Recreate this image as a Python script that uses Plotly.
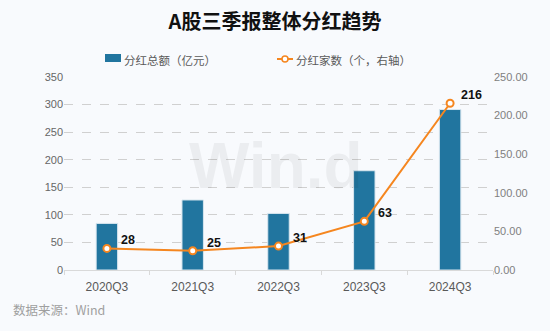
import plotly.graph_objects as go

categories = ["2020Q3", "2021Q3", "2022Q3", "2023Q3", "2024Q3"]
dividend_amount = [84.5, 127, 102.6, 180, 291]
dividend_companies = [28, 25, 31, 63, 216]
series_names = ["分红总额（亿元）", "分红家数（个，右轴）"]

FONT = "Noto Sans CJK SC, Arial, sans-serif"
BLUE = "#21759f"
ORANGE = "#f5861f"
BG = "#f8fafd"

L, R, T, B = 64, 57, 77, 61
PW, PH = 550 - L - R, 331 - T - B


def px_x(x):
    return (x - L) / PW


def px_y(y):
    return (331 - B - y) / PH


fig = go.Figure()
fig.add_trace(go.Bar(
    x=categories, y=dividend_amount, name=series_names[0],
    marker=dict(color=BLUE, line=dict(color="#d8e6ef", width=1)),
    width=0.25, yaxis="y", showlegend=False,
))
fig.add_trace(go.Scatter(
    x=categories, y=dividend_companies, name=series_names[1],
    mode="lines+markers",
    line=dict(color=ORANGE, width=2),
    marker=dict(symbol="circle", size=7, color="white", line=dict(color=ORANGE, width=2)),
    yaxis="y2", showlegend=False,
))

annotations = [
    dict(text="<b>Win.d</b>", x=px_x(276), y=px_y(166), xref="paper", yref="paper", showarrow=False,
         font=dict(family="Arial, sans-serif", size=64, color="rgba(0,0,0,0.05)")),
    dict(text="数据来源：Wind", x=px_x(11), y=px_y(309), xref="paper", yref="paper", showarrow=False,
         xanchor="left", yanchor="middle", font=dict(family=FONT, size=12.5, color="#9f9f9f")),
    dict(text=series_names[0], x=px_x(122), y=px_y(60), xref="paper", yref="paper", showarrow=False,
         xanchor="left", yanchor="middle", font=dict(family=FONT, size=11.5, color="#595959")),
    dict(text=series_names[1], x=px_x(294), y=px_y(60), xref="paper", yref="paper", showarrow=False,
         xanchor="left", yanchor="middle", font=dict(family=FONT, size=11.5, color="#595959")),
]
for c, v in zip(categories, dividend_companies):
    annotations.append(dict(
        text=f"<b>{v}</b>", x=c, y=v, xref="x", yref="y2", showarrow=False,
        xshift=21, yshift=8, font=dict(family="Arial, sans-serif", size=12.5, color="#111111")))

shapes = [
    dict(type="rect", xref="paper", yref="paper", x0=px_x(105), x1=px_x(121), y0=px_y(54), y1=px_y(62),
         fillcolor=BLUE, line=dict(width=0)),
    dict(type="line", xref="paper", yref="paper", x0=px_x(277), x1=px_x(293), y0=px_y(59), y1=px_y(59),
         line=dict(color=ORANGE, width=2)),
    dict(type="circle", xref="paper", yref="paper", x0=px_x(282), x1=px_x(288), y0=px_y(56), y1=px_y(62),
         fillcolor="white", line=dict(color=ORANGE, width=1.5)),
]

fig.update_layout(
    width=550, height=331,
    paper_bgcolor=BG, plot_bgcolor=BG,
    margin=dict(l=L, r=R, t=T, b=B),
    font=dict(family=FONT, color="#595959", size=11),
    title=dict(text="<b>A股三季报整体分红趋势</b>", x=0.5, xanchor="center", y=1 - 22 / 331, yanchor="middle",
               font=dict(family=FONT, size=20, color="#111111")),
    showlegend=False,
    xaxis=dict(showgrid=False, showline=True, linecolor="#d9d9d9", linewidth=1,
               ticks="outside", tickcolor="#d9d9d9", ticklen=4, tickson="boundaries",
               ticklabelstandoff=6,
               tickfont=dict(family="Arial, sans-serif", size=12, color="#595959")),
    yaxis=dict(range=[0, 350], dtick=50, showgrid=True, gridcolor="#d0d0d0", griddash="dash",
               zeroline=False, showline=False,
               tickfont=dict(family="Arial, sans-serif", size=11, color="#666666")),
    yaxis2=dict(range=[0, 250], dtick=50, overlaying="y", side="right", showgrid=False,
                zeroline=False, showline=False, tickformat=".2f",
                tickfont=dict(family="Arial, sans-serif", size=11, color="#808080")),
    annotations=annotations,
    shapes=shapes,
)

fig.write_html("out.html")
